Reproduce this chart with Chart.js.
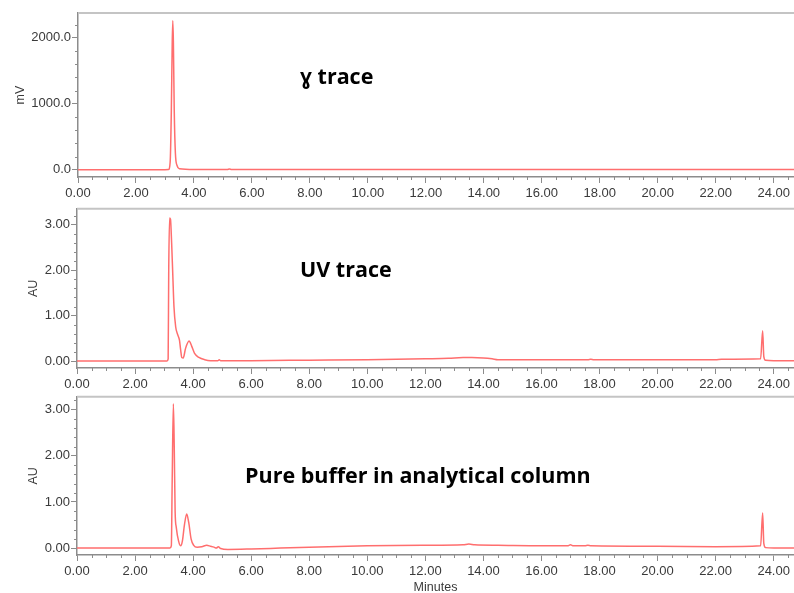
<!DOCTYPE html>
<html>
<head>
<meta charset="utf-8">
<script src="https://cdn.jsdelivr.net/npm/chart.js@4"></script>
<style>
  html, body { margin: 0; padding: 0; background: #fff; overflow: hidden; }
  .panel { position: absolute; left: 0; }
</style>
</head>
<body>
<canvas id="gammaChart" class="panel" width="794" height="200" style="top:0"></canvas>
<canvas id="uvChart" class="panel" width="794" height="188" style="top:200px"></canvas>
<canvas id="bufferChart" class="panel" width="794" height="209" style="top:388px"></canvas>
<script>
// run time axis (minutes)
const timeMin = 0;
const timeMax = 24.7;

// radiometric (gamma) detector, mV
const gammaTime = [0, 1, 2, 3, 3.12, 3.18, 3.22, 3.25, 3.27, 3.29, 3.32, 3.36, 3.42, 3.5, 4, 5.15, 5.22, 5.3, 6, 10, 15, 20, 24.7];
const gammaMv = [0, 0, 0, 0, 2, 120, 900, 1900, 2258, 1950, 900, 250, 60, 15, 3, 3, 12, 3, 2, 2, 2, 2, 2];

// UV detector, AU
const uvTime = [0, 2, 3.1, 3.14, 3.16, 3.19, 3.22, 3.26, 3.3, 3.34, 3.4, 3.47, 3.53, 3.57, 3.61, 3.66, 3.74, 3.86, 3.95, 4.05, 4.2, 4.4, 4.6, 4.85, 4.9, 4.95, 6, 8, 10, 12, 12.8, 13.3, 13.6, 14.0, 14.3, 14.5, 16, 17.6, 17.7, 17.8, 20, 22, 22.2, 23.55, 23.62, 23.66, 23.72, 24, 24.7];
const uvAu = [0, 0, 0, 0.05, 2.0, 3.15, 3.12, 2.6, 1.9, 1.2, 0.75, 0.58, 0.46, 0.25, 0.08, 0.07, 0.28, 0.44, 0.33, 0.17, 0.08, 0.03, 0.01, 0.01, 0.03, 0.01, 0.01, 0.02, 0.03, 0.05, 0.06, 0.08, 0.08, 0.07, 0.05, 0.03, 0.03, 0.03, 0.04, 0.03, 0.03, 0.03, 0.04, 0.05, 0.67, 0.1, 0.02, 0.01, 0.01];

// UV detector, pure buffer on the analytical column, AU
const bufferTime = [0, 2, 3.2, 3.25, 3.28, 3.32, 3.35, 3.38, 3.42, 3.5, 3.57, 3.63, 3.7, 3.78, 3.85, 3.93, 4.02, 4.14, 4.3, 4.47, 4.6, 4.72, 4.8, 4.87, 4.95, 5.2, 6, 7, 8, 10, 12, 13.3, 13.5, 13.7, 14.5, 16, 16.9, 17.0, 17.1, 17.5, 17.6, 17.7, 20, 22, 23.55, 23.62, 23.66, 23.72, 24, 24.7];
const bufferAu = [0, 0, 0, 0.05, 1.5, 3.13, 2.2, 0.8, 0.45, 0.15, 0.05, 0.15, 0.5, 0.74, 0.55, 0.2, 0.06, 0.02, 0.03, 0.06, 0.04, 0.02, 0.0, 0.03, -0.01, -0.03, -0.02, 0.0, 0.02, 0.05, 0.06, 0.07, 0.09, 0.07, 0.06, 0.05, 0.05, 0.07, 0.05, 0.05, 0.06, 0.05, 0.04, 0.03, 0.05, 0.76, 0.1, 0.01, 0.0, 0.0];

const traceColor = 'rgb(255, 110, 110)';
const axisColor = '#8c8c8c';
const tickFont = { family: "'Liberation Sans', Arial, sans-serif", size: 13 };
const titleFont = { family: "'Liberation Sans', Arial, sans-serif", size: 12.5 };

function isWhole(v, unit) {
    const r = v / unit;
    return Math.abs(r - Math.round(r)) < 1e-6;
}

// short marks for the unlabelled ticks plus the light frame line along the top
const frameTicks = {
    id: 'frameTicks',
    afterDraw(chart) {
        const ctx = chart.ctx;
        const area = chart.chartArea;
        const xs = chart.scales.x, ys = chart.scales.y;
        ctx.save();
        ctx.strokeStyle = axisColor;
        ctx.lineWidth = 1;
        xs.ticks.forEach(t => {
            if (isWhole(t.value, 2)) return;
            const px = Math.round(xs.getPixelForValue(t.value)) + 0.5;
            ctx.beginPath();
            ctx.moveTo(px, area.bottom);
            ctx.lineTo(px, area.bottom + 3);
            ctx.stroke();
        });
        const yMajor = chart.options.plugins.frameTicks.yMajor;
        ys.ticks.forEach(t => {
            if (isWhole(t.value, yMajor)) return;
            const py = Math.round(ys.getPixelForValue(t.value)) + 0.5;
            ctx.beginPath();
            ctx.moveTo(area.left - 3, py);
            ctx.lineTo(area.left, py);
            ctx.stroke();
        });
        ctx.strokeStyle = '#c4c4c4';
        ctx.lineWidth = 2;
        ctx.beginPath();
        ctx.moveTo(area.left, area.top);
        ctx.lineTo(area.right, area.top);
        ctx.stroke();
        ctx.restore();
    }
};

// bold caption written inside the plot area
const caption = {
    id: 'caption',
    afterDraw(chart) {
        const opt = chart.options.plugins.caption;
        const ctx = chart.ctx;
        ctx.save();
        ctx.fillStyle = '#000';
        ctx.font = "bold 21.5px 'Open Sans', sans-serif";
        ctx.textBaseline = 'alphabetic';
        ctx.fillText(opt.text, opt.left, opt.baseline);
        ctx.restore();
    }
};

function makePanel(id, time, values, cfg) {
    const points = time.map((t, i) => ({ x: t, y: values[i] }));
    return new Chart(document.getElementById(id), {
        type: 'line',
        data: {
            datasets: [{
                data: points,
                borderColor: traceColor,
                borderWidth: 1.5,
                pointRadius: 0,
                cubicInterpolationMode: 'monotone',
                fill: false
            }]
        },
        options: {
            responsive: false,
            animation: false,
            devicePixelRatio: 1,
            layout: { padding: { top: cfg.top, right: 0, left: 0, bottom: 0 } },
            scales: {
                x: {
                    type: 'linear',
                    min: timeMin,
                    max: timeMax,
                    afterFit: s => { s.height = cfg.xHeight; },
                    border: { color: axisColor, width: 1.5 },
                    grid: {
                        drawOnChartArea: false,
                        tickLength: 6,
                        tickColor: c => isWhole(c.tick.value, 2) ? axisColor : 'rgba(0,0,0,0)'
                    },
                    ticks: {
                        stepSize: 0.5,
                        includeBounds: false,
                        autoSkip: false,
                        maxRotation: 0,
                        padding: 3,
                        color: '#3a3a3a',
                        font: tickFont,
                        callback: v => isWhole(v, 2) ? v.toFixed(2) : ''
                    },
                    title: {
                        display: !!cfg.xTitle,
                        text: cfg.xTitle || '',
                        color: '#3a3a3a',
                        font: titleFont,
                        padding: { top: 0, bottom: 2 }
                    }
                },
                y: {
                    min: cfg.yMin,
                    max: cfg.yMax,
                    afterFit: s => { s.width = cfg.yWidth; },
                    border: { color: axisColor, width: 1.5 },
                    grid: {
                        drawOnChartArea: false,
                        tickLength: 6,
                        tickColor: c => isWhole(c.tick.value, cfg.yMajor) ? axisColor : 'rgba(0,0,0,0)'
                    },
                    ticks: {
                        stepSize: cfg.yStep,
                        includeBounds: false,
                        autoSkip: false,
                        padding: 1,
                        color: '#3a3a3a',
                        font: tickFont,
                        callback: v => isWhole(v, cfg.yMajor) ? v.toFixed(cfg.yDigits) : ''
                    },
                    title: {
                        display: true,
                        text: cfg.yTitle,
                        color: '#3a3a3a',
                        font: titleFont,
                        padding: { top: cfg.yTitlePad, bottom: 0 }
                    }
                }
            },
            plugins: {
                legend: { display: false },
                tooltip: { enabled: false },
                frameTicks: { yMajor: cfg.yMajor },
                caption: cfg.caption
            }
        },
        plugins: [frameTicks, caption]
    });
}

makePanel('gammaChart', gammaTime, gammaMv, {
    top: 13, xHeight: 23, yWidth: 78,
    yMin: -110, yMax: 2375, yStep: 200, yMajor: 1000, yDigits: 1,
    yTitle: 'mV', yTitlePad: 13,
    caption: { text: 'ɣ trace', left: 300, baseline: 84 }
});

makePanel('uvChart', uvTime, uvAu, {
    top: 7, xHeight: 20, yWidth: 77,
    yMin: -0.152, yMax: 3.35, yStep: 0.2, yMajor: 1, yDigits: 2,
    yTitle: 'AU', yTitlePad: 26,
    caption: { text: 'UV trace', left: 300, baseline: 77 }
});

makePanel('bufferChart', bufferTime, bufferAu, {
    top: 7, xHeight: 42, yWidth: 77,
    yMin: -0.15, yMax: 3.28, yStep: 0.2, yMajor: 1, yDigits: 2,
    yTitle: 'AU', yTitlePad: 26, xTitle: 'Minutes',
    caption: { text: 'Pure buffer in analytical column', left: 245, baseline: 95 }
});
</script>
</body>
</html>
